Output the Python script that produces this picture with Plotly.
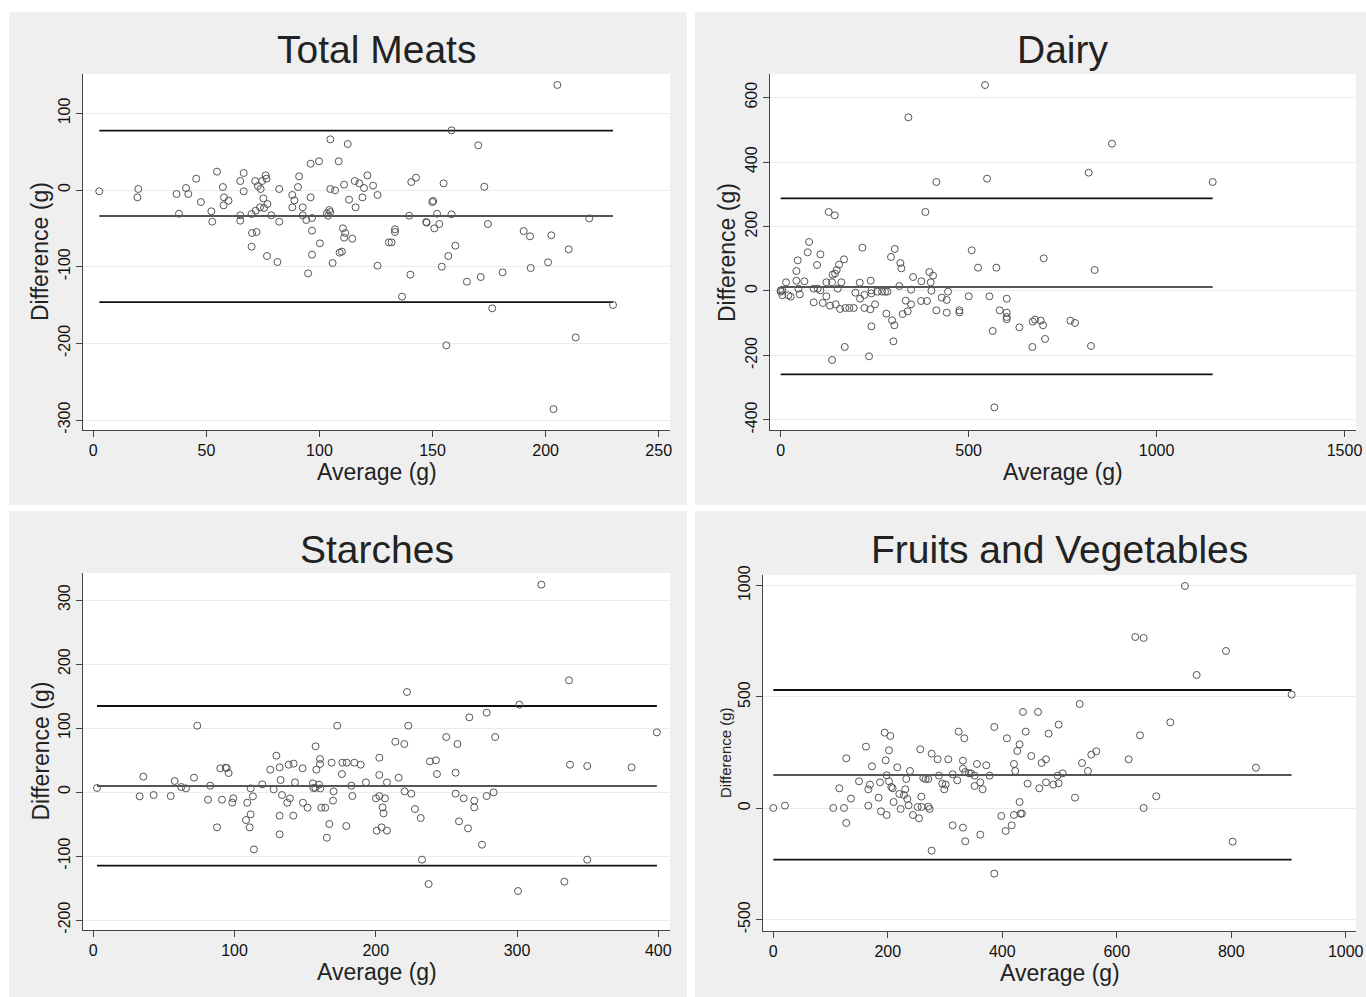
import plotly.graph_objects as go

# ---------------- data ----------------
panel_titles = ["Total Meats", "Dairy", "Starches", "Fruits and Vegetables"]
x_label = "Average (g)"
y_label = "Difference (g)"

meats_avg = [2.65, 19.9, 19.5, 36.8, 41, 42, 37.9, 45.5, 47.6, 54.7, 52.2, 52.6, 57.3, 57.8, 59.8, 57.6,
             65, 66.5, 66.5, 65, 65, 71.6, 72.8, 76.2, 74.6, 76.6, 74, 75.2, 77, 75.5, 73.7, 71.8, 70,
             78.7, 82.2, 82.2, 70.2, 72.2, 70, 76.8, 81.4, 88, 88.9, 88, 91, 90.5, 92.6, 92.6, 94.2,
             96.7, 96.1, 96.1, 99.8, 96.7, 100.2, 96.7, 95, 104.8, 112.5, 108.5, 104.8, 106.9, 110.9,
             104.3, 103.3, 104.8, 103.8, 113.1, 116, 110.4, 111.4, 110.9, 114.5, 109.9, 108.9, 105.8,
             115.6, 117.6, 119.7, 121.2, 119, 123.7, 125.7, 125.7,
             205.2, 158.4, 170.2, 140.6, 142.7, 154.9, 172.9, 149.9, 150.3, 139.7, 152, 158.4, 147.2,
             147.4, 153, 150.8, 133.4, 133.4, 130.7, 131.9, 174.5, 160.1, 157, 154.1, 140.2, 136.5,
             165.2, 171.3, 181, 176.4, 156.1, 190.3, 193.1, 202.5, 210.2, 201.1, 193.4, 219.3, 229.8,
             213.3, 203.5]
meats_diff = [-1.7, 1.3, -9.6, -5.2, 2.6, -5.2, -30.9, 14.8, -15.7, 23.9, -27.8, -41.3, 3.9, -9.6, -13.9, -20,
              11.7, 22.2, -1.7, -33, -40, 11.7, 5.2, 19.1, 11.7, 14.8, 1.3, -10.9, -18.3, -23.5, -22.6, -27, -31.3,
              -33, 1.3, -41.3, -56.1, -54.8, -73.9, -86.1, -93.9, -6.5, -13.5, -22.6, 17.8, 3.9, -22.6, -33, -39.1,
              -36.5, -9.6, 34.3, 37.4, -53, -69.6, -84.3, -108.7, 66.1, 60, 37.4, 1.3, -0.4, 7,
              -26.1, -30.4, -28.7, -33.5, -12.6, -22.6, -50, -56.1, -62.2, -63.5, -80.4, -81.7, -95.2,
              11.7, 8.7, 2.6, 19.1, -9.6, 5.7, -6.5, -98.7,
              137, 77.8, 58.3, 10.4, 16.1, 8.7, 4.3, -15.7, -14.3, -33.5, -30.9, -31.7, -41.7,
              -42.6, -44.3, -50, -51.3, -54.8, -68.3, -68.3, -44.3, -72.6, -86.1, -100, -110.4, -139.1,
              -119.6, -113.5, -107.4, -154.3, -202.6, -53.5, -60.4, -59.1, -77.4, -94.3, -101.7, -37, -150,
              -192.2, -285.7]
meats_limits = [77.4, -33.9, -146.1]   # upper LoA, mean, lower LoA

dairy_avg = [543.6, 339.7, 414.2, 549, 384.9, 127.7, 143.7, 75.4, 71.8, 105.5, 45.2, 96.7, 217.3, 303.3,
             293.5, 318.4, 321, 168.5, 155.2, 149, 144.6, 138.3, 136.6, 161.4, 151.7, 41.7, 41.7, 14.2, 63,
             0, 4.4, 0, 4.4, 20.4, 26.6, 50.6, 47, 87.8, 98.4, 105.5, 87.8, 111.7, 121.5, 121.5, 131.3,
             146.3, 157.9, 172, 182.7, 194.2, 198.7, 210.2, 211.1, 222.6, 222.6, 239.5, 241.3, 241.3, 251,
             238.5, 241.3, 170.3, 235, 136.6, 257.2, 269.6, 277.6, 283.8, 281.1, 296.2, 302.4, 299.7, 315.7,
             324.6, 332.6, 337.9, 346.8, 346.8, 352.1, 374.3, 373.4, 389.3, 395.5, 405.3, 399.1, 400.9,
             414.2, 428.4, 441.7, 441.7, 445.2, 475.3, 475.3, 500.2, 508.1, 525, 573.8, 555.2, 564, 568.5,
             582.6, 601.3, 601.3, 601.3, 601.3, 635, 669.6, 670.5, 676.7, 691.8, 698, 699.7, 703.3,
             881.4, 819.3, 1149.3, 835.3, 770.6, 783, 825.6]
dairy_diff = [639, 538.8, 338.2, 348.5, 245.1, 245.1, 234.7, 152, 120, 113.8, 95.1, 80.7, 134.4, 130.3,
              105.5, 86.9, 70.3, 98.2, 81.7, 65.1, 53.8, 50.7, 26.9, 26.9, 7.2, 62, 32, 26.9, 30,
              2, 2, -2, -13.4, -13.4, -17.6, -10.3, 7.2, 7.2, 7.2, 2, -35.2, -37.2, -16.5, 26.9, -45.5,
              -41.4, -55.8, -52.7, -52.7, -52.7, -5.2, 25.9, -23.8, -12.4, -52.7, 32, -7.2, 2, -41.4,
              -56.9, -109.6, -173.7, -202.7, -214.1, -2, -2, -2, -2, -70.3, -91, -106.5, -156.2, 15.5,
              -71.4, -30, -63.1, 4.1, -41.4, 43.4, 30, -31, -31, 58.9, 47.6, 26.9, 1,
              -60, -20.7, -27.9, -67.2, -2, -60, -66.2, -16.5, 126.2, 72.4, 72.4, -16.5, -124.1, -360.9,
              -60, -23.8, -67.2, -80.7, -87.9, -112.7, -173.7, -95.1, -88.9, -92, -106.5, 101.3, -148.9,
              457.1, 367.1, 338.2, 65.1, -92, -99.3, -170.6]
dairy_limits = [287.5, 12.4, -258.5]

starch_avg = [2.6, 32.8, 35.4, 42.7, 54.8, 57.6, 62.3, 65.6, 71.3, 73.6, 82.8, 81.2, 87.6, 89.9, 93.7, 94.4,
              95.8, 91.1, 99.1, 98.4, 109, 111.4, 113, 108.1, 111.4, 110.7, 113.7, 119.6, 125.3, 129.6,
              131.9, 127.7, 132.6, 133.6, 137.3, 139.2, 131.9, 131.9, 138.3, 141.8, 142.8, 141.6, 148.2,
              148.4, 151.7, 157.4, 160.5, 160.5, 157.9, 155.5, 157.2, 159.8, 160.7, 155.8, 161.4, 164.2,
              170.1, 169.7, 167.1, 165.4, 168.7, 172.7, 176.3, 179.4, 176, 184.8, 189.3, 182.7, 183.4,
              179.1, 193,
              317.2, 336.8, 222.1, 301.6, 223, 266.2, 278.5, 249.9, 257.8, 284.5, 213.8, 220.2, 399,
              202.5, 238.3, 242.6, 243.3, 256.5, 337.5, 349.7, 381.1, 202.5, 207.9, 216.2, 200.1, 202.5,
              206.5, 220.4, 225.1, 204.8, 205.5, 227.7, 231.8, 204.1, 200.6, 207.9, 256.5, 262.2, 269.7,
              269.7, 278.5, 283.4, 258.9, 265.3, 275.2, 232.7, 237.4, 300.7, 333.5, 349.7]
starch_diff = [6.3, -6.8, 24, -4.7, -6.3, 17.2, 7.8, 5.7, 22.4, 103.6, 9.9, -12, -55.2, 37, 38, 37.5,
               29.7, -12, -9.9, -16.7, -16.7, 5.7, -6.8, -43.8, -34.9, -55.2, -89.6, 12, 34.9, 56.8,
               38.5, 4.2, 18.8, -4.7, -16.7, -9.9, -37, -66.1, 42.7, 44.3, 15.1, -37, 37,
               -16.7, -24.5, 71.4, 51.6, 43.8, 34.9, 13.5, 6.3, 11.5, 5.7, 6.3, -24.5, -24.5,
               1, -13.5, -50, -71.4, 45.8, 103.6, 45.8, 45.8, 28.1, 45.8, 42.7, 9.9, -6.3,
               -53.1, 15.1,
               324, 174.5, 156.3, 136.5, 103.6, 116.7, 124, 85.9, 75, 85.9, 78.6, 75, 93.2,
               53.6, 47.9, 49.5, 28.1, 30.2, 42.7, 40.6, 38.5, 26.6, 15.1, 22.4, -9.9, -6.3,
               -9.9, 1, -2.6, -24, -33.3, -26.6, -40.6, -55.2, -60.4, -60.4, -2.6, -9.9, -13.5,
               -24, -6.3, -0.5, -45.8, -56.8, -82.3, -105.7, -143.8, -154.7, -140.1, -105.7]
starch_limits = [134.4, 9.4, -115.1]

fv_avg = [0, 20.4, 104.8, 123.5, 127.5, 115.3, 127.5, 135.7, 149.7, 161.9, 168.9, 166, 166, 172.4, 186.4,
          184, 188.1, 198, 194.5, 204.4, 202.1, 196.3, 198, 202.1, 206.2, 208.5, 210.2, 216.6, 220.1,
          222.5, 228.3, 230.6, 232.3, 234.1, 236.4, 238.8, 244, 254.5, 252.2, 258.6, 259.1, 256.8, 262,
          266.1, 270.8, 270.8, 273.1, 276.6, 276.6, 287.1, 289.4, 295.2, 298.7, 301.1, 305.7, 313.3,
          313.3, 321.4, 323.8, 333.7, 331.3, 331.3, 331.3, 335.4, 335.4, 341.8, 345.3, 351.7, 355.8,
          351.7, 361.6, 361.6, 365.7, 372.1, 377.9, 386.1, 386.1, 398.3, 405.9, 408.2, 416.4, 420.4,
          420.4, 422.7, 426.3, 430.3, 430.3, 432.1, 434.4, 436.2, 440.9, 444.3, 450.7, 462.4, 464.7,
          468.8, 476.4, 476.4, 481, 489.2, 496.7, 498.5, 498.5,
          505.5, 535.2, 527, 539.3, 549.7, 555.5, 564.3, 620.9, 640.7, 632.4, 647, 647, 669.1, 693.6,
          719.2, 739.6, 790.8, 802.5, 843.2, 905.5]
fv_diff = [1.5, 12, 1.5, 1.5, -65.9, 89.8, 224.6, 43.4, 121.3, 277, 106.3, 85.3, 12, 188.6, 116.8,
           47.9, -13.5, -29.9, 339.8, 324.9, 260.5, 215.6, 148.2, 121.3, 95.8, 89.8, 28.4, 184.1, 64.4,
           -3, 59.9, 85.3, 131.7, 41.9, 13.5, 167.7, -29.9, -44.9, 6, 52.4, 6, 265, 136.2,
           131.7, 131.7, 7.5, -3, 245.5, -190.1, 220.1, 146.7, 110.8, 85.3, 106.3, 220.1, -76.3,
           152.7, 125.7, 344.3, 314.4, 214.1, 178.1, -86.8, -148.2, 163.2, 157.2, 157.2, 100.3, 199.1,
           146.7, -118.3, 116.8, 85.3, 193.1, 146.7, 365.3, -293.4, -34.4, -101.8, 314.4, -76.3, -29.9,
           199.1, 167.7, 257.5, 287.4, 28.4, -24, -24, 432.6, 344.3, 110.8, 235, 432.6, 89.8,
           203.6, 220.1, 116.8, 335.3, 106.3, 146.7, 112.3, 375.7,
           157.2, 468.6, 47.9, 203.6, 167.7, 241, 256, 220.1, 327.8, 769.5, 765, 1.5, 53.9, 386.2,
           998.5, 598.8, 706.6, -149.7, 182.6, 510.5]
fv_limits = [531.4, 149.7, -230.5]

x_ticks = [[0, 50, 100, 150, 200, 250], [0, 500, 1000, 1500],
           [0, 100, 200, 300, 400], [0, 200, 400, 600, 800, 1000]]
y_ticks = [[-300, -200, -100, 0, 100], [-400, -200, 0, 200, 400, 600],
           [-200, -100, 0, 100, 200, 300], [-500, 0, 500, 1000]]

# ---------------- layout geometry (pixels) ----------------
W, H = 1366, 997
FONT = "Liberation Sans, Arial, Helvetica, sans-serif"

panels = [
    dict(avg=meats_avg, diff=meats_diff, lim=meats_limits,
         box=(9, 12, 687, 505), plot=(83, 74, 670, 430),
         xr=[-4.55, 255.0], yr=[-313, 151.3], ytitle_x=40, ytitle_size=23),
    dict(avg=dairy_avg, diff=dairy_diff, lim=dairy_limits,
         box=(695, 12, 1366, 505), plot=(770, 74, 1356, 430),
         xr=[-28.5, 1530.6], yr=[-431.3, 673.2], ytitle_x=727, ytitle_size=23),
    dict(avg=starch_avg, diff=starch_diff, lim=starch_limits,
         box=(9, 511, 687, 997), plot=(83, 573, 670, 930),
         xr=[-7.3, 408.3], yr=[-215.6, 342.2], ytitle_x=40, ytitle_size=23),
    dict(avg=fv_avg, diff=fv_diff, lim=fv_limits,
         box=(695, 511, 1366, 997), plot=(763, 575, 1356, 931),
         xr=[-18, 1018], yr=[-551, 1047.8], ytitle_x=725, ytitle_size=15),
]


def px(x):
    return x / W


def py(y):
    return 1 - y / H


fig = go.Figure()
shapes = []
annotations = []

for i, p in enumerate(panels):
    k = "" if i == 0 else str(i + 1)
    xa, ya = "x" + k, "y" + k
    bx0, by0, bx1, by1 = p["box"]
    x0, y0, x1, y1 = p["plot"]
    shapes.append(dict(type="rect", xref="paper", yref="paper", x0=px(bx0), x1=px(bx1),
                       y0=py(by1), y1=py(by0), fillcolor="#efefef", line=dict(width=0), layer="below"))
    shapes.append(dict(type="rect", xref="paper", yref="paper", x0=px(x0), x1=px(x1),
                       y0=py(y1), y1=py(y0), fillcolor="#ffffff", line=dict(width=0), layer="below"))

    xmin, xmax = min(p["avg"]), max(p["avg"])
    upper, mean, lower = p["lim"]
    for val, col in ((upper, "#111111"), (lower, "#111111"), (mean, "#555555")):
        fig.add_trace(go.Scatter(x=[xmin, xmax], y=[val, val], mode="lines",
                                 line=dict(color=col, width=1.8), xaxis=xa, yaxis=ya,
                                 showlegend=False, hoverinfo="skip"))
    fig.add_trace(go.Scatter(x=p["avg"], y=p["diff"], mode="markers",
                             marker=dict(symbol="circle-open", size=7, color="#555555",
                                         line=dict(width=1, color="#555555")),
                             xaxis=xa, yaxis=ya, showlegend=False))

    axis_common = dict(showline=True, linecolor="#444444", linewidth=1, ticks="outside",
                       ticklen=6, tickcolor="#444444", tickfont=dict(family=FONT, size=16, color="#111111"),
                       zeroline=False, automargin=False)
    fig.update_layout(**{
        ("xaxis" + k): dict(domain=[px(x0), px(x1)], range=p["xr"], tickvals=x_ticks[i],
                            ticktext=[str(v) for v in x_ticks[i]],
                            showgrid=False, anchor=ya, **axis_common),
        ("yaxis" + k): dict(domain=[py(y1), py(y0)], range=p["yr"], tickvals=y_ticks[i],
                            ticktext=[str(v) for v in y_ticks[i]],
                            showgrid=True, gridcolor="#ebebeb", gridwidth=1, tickangle=-90,
                            anchor=xa, **axis_common),
    })

    cx = (x0 + x1) / 2
    annotations.append(dict(text=panel_titles[i], x=px(cx), y=py(by0 + 38), xref="paper", yref="paper",
                            showarrow=False, xanchor="center", yanchor="middle",
                            font=dict(family=FONT, size=39, color="#222222")))
    annotations.append(dict(text=x_label, x=px(cx), y=py(y1 + 42), xref="paper", yref="paper",
                            showarrow=False, xanchor="center", yanchor="middle",
                            font=dict(family=FONT, size=23, color="#222222")))
    annotations.append(dict(text=y_label, x=px(p["ytitle_x"]), y=py((y0 + y1) / 2), xref="paper",
                            yref="paper", showarrow=False, textangle=-90, xanchor="center",
                            yanchor="middle", font=dict(family=FONT, size=p["ytitle_size"], color="#222222")))

fig.update_layout(width=W, height=H, margin=dict(l=0, r=0, t=0, b=0, autoexpand=False),
                  paper_bgcolor="#ffffff", plot_bgcolor="#ffffff",
                  shapes=shapes, annotations=annotations, showlegend=False)

fig.write_html("out.html", config={"displayModeBar": False},
               post_script="var d=document.getElementById('{plot_id}');"
                           "d.style.position='fixed';d.style.left='0px';d.style.top='0px';"
                           "document.body.style.margin='0';document.body.style.padding='0';"
                           "document.body.style.overflow='hidden';"
                           "document.documentElement.style.overflow='hidden';")
